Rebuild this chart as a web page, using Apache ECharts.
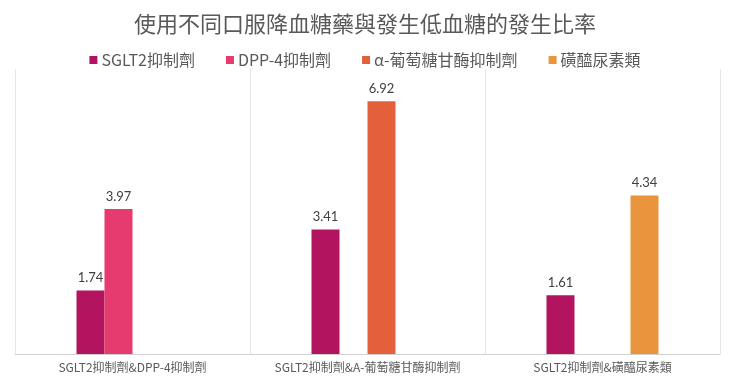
<!DOCTYPE html>
<html><head><meta charset="utf-8">
<script src="https://cdn.jsdelivr.net/npm/echarts@6/dist/echarts.min.js"></script>
<style>html,body{margin:0;padding:0;background:#fff}#c{width:730px;height:383px}</style>
</head><body><div id="c"></div>
<script>
const titleText = '使用不同口服降血糖藥與發生低血糖的發生比率';
const categories = ['SGLT2抑制劑&DPP-4抑制劑', 'SGLT2抑制劑&A-葡萄糖甘酶抑制劑', 'SGLT2抑制劑&磺醯尿素類'];
const seriesNames = ['SGLT2抑制劑', 'DPP-4抑制劑', 'α-葡萄糖甘酶抑制劑', '磺醯尿素類'];
const sglt2 = [1.74, 3.41, 1.61];
const dpp4 = [3.97, null, null];
const alphaG = [null, 6.92, null];
const sulfonylurea = [null, null, 4.34];
const colors = ['#B3145F', '#E63B6F', '#E4603B', '#E8953D'];

const allData = [sglt2, dpp4, alphaG, sulfonylurea];
const chart = echarts.init(document.getElementById('c'));
chart.setOption({
  backgroundColor: '#fff',
  title: {
    text: titleText, left: 'center', top: 8,
    textStyle: { fontFamily: 'Noto Sans CJK TC', fontSize: 22, fontWeight: 'normal', color: '#595959' }
  },
  legend: {
    top: 47, left: 'center', itemWidth: 8, itemHeight: 8, itemGap: 31, icon: 'rect',
    textStyle: { fontFamily: 'Noto Sans CJK TC', fontSize: 16, color: '#595959', padding: [0,0,0,-1] },
    data: seriesNames
  },
  grid: { left: 15, right: 10, top: 69, bottom: 29 },
  xAxis: {
    type: 'category', data: categories,
    axisLine: { lineStyle: { color: '#D0D0D0' } },
    axisTick: { show: false, interval: 0 },
    splitLine: { show: true, interval: 0, lineStyle: { color: '#E6E6E6' } },
    axisLabel: { interval: 0, fontFamily: 'Noto Sans CJK TC', fontSize: 12, color: '#595959', margin: 7 }
  },
  yAxis: { type: 'value', min: 0, max: 7.8, show: false, splitLine: { show: false } },
  series: allData.map((d, i) => ({
    name: seriesNames[i], type: 'bar', data: d, barWidth: 28, barGap: '0%',
    itemStyle: { color: colors[i] },
    label: { show: true, position: 'top', distance: 6, color: '#404040', fontFamily: 'Lato', fontSize: 13 }
  })),
  animation: false
});
</script></body></html>
